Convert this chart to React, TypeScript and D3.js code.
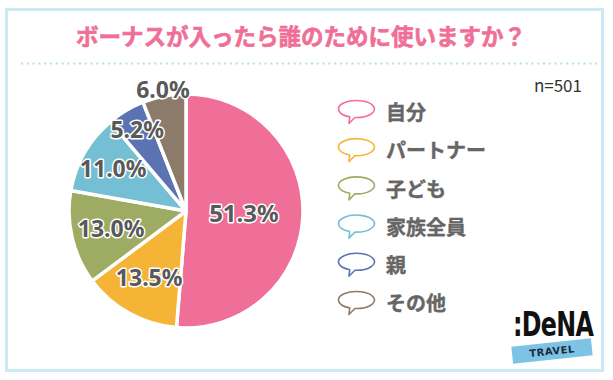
import React from "react";
import * as d3 from "d3";

const categories = ["自分", "パートナー", "子ども", "家族全員", "親", "その他"];
const values = [51.3, 13.5, 13.0, 11.0, 5.2, 6.0];
const colors = ["#f06f98", "#f6b437", "#9dac62", "#74bfd3", "#5b73b3", "#8c7b6b"];
const title = "ボーナスが入ったら誰のために使いますか？";
const sampleNote = "n=501";

const W = 613;
const H = 380;
const cx = 186;
const cy = 211;
const R = 117;
const labelRadius = [58, 76, 77, 84, 95, 123];

function bubblePath(rx: number, ry: number) {
  const a1 = (95 * Math.PI) / 180;
  const a2 = (112 * Math.PI) / 180;
  const x1 = rx * Math.cos(a1), y1 = ry * Math.sin(a1);
  const x2 = rx * Math.cos(a2), y2 = ry * Math.sin(a2);
  return `M${x1},${y1} A${rx},${ry} 0 1 0 ${x2},${y2} L${-rx * 0.42},${ry + 6} Z`;
}

export default function App() {
  const pie = d3.pie<number>().sort(null).value((d) => d);
  const arcs = pie(values);
  const arc = d3.arc<d3.PieArcDatum<number>>().innerRadius(0).outerRadius(R);
  const legendY = d3.scalePoint<string>().domain(categories).range([113, 304]);

  const dots: number[] = d3.range(22, 598, 5.8);

  return (
    <svg width={W} height={H} style={{ position: "absolute", left: 0, top: 0, background: "#fff" }}>
      <rect x={0} y={0} width={W} height={H} fill="#fff" />
      <rect x={6.5} y={9.5} width={596} height={361} fill="none" stroke="#cbeaf6" strokeWidth={3} />
      <text
        x={301}
        y={45}
        textAnchor="middle"
        fontFamily="'Noto Sans CJK JP', sans-serif"
        fontWeight={700}
        fontSize={22.5}
        fill="#ef6f97"
        stroke="#ef6f97"
        strokeWidth={0.6}
      >
        {title}
      </text>
      {dots.map((x, i) => (
        <circle key={i} cx={x} cy={63.5} r={1.3} fill="#c3e5f2" />
      ))}
      <text x={582} y={92} textAnchor="end" fontFamily="'Noto Sans CJK JP', sans-serif" fontSize={17} fill="#333">
        {sampleNote}
      </text>

      <g transform={`translate(${cx},${cy})`}>
        {arcs.map((a, i) => (
          <path key={i} d={arc(a) || ""} fill={colors[i]} stroke="#fff" strokeWidth={3.5} strokeLinejoin="round" />
        ))}
        {arcs.map((a, i) => {
          const c = d3.arc<d3.PieArcDatum<number>>().innerRadius(labelRadius[i]).outerRadius(labelRadius[i]).centroid(a);
          return (
            <text
              key={"l" + i}
              x={c[0]}
              y={c[1]}
              dy="0.36em"
              textAnchor="middle"
              fontFamily="'Noto Sans', sans-serif"
              fontWeight={700}
              fontSize={i === 0 ? 24 : 23}
              fill="#595959"
              stroke="#fff"
              strokeWidth={3}
              paintOrder="stroke"
              strokeLinejoin="round"
            >
              {values[i].toFixed(1)}%
            </text>
          );
        })}
      </g>

      {categories.map((c, i) => {
        const y = legendY(c) as number;
        return (
          <g key={c}>
            <path
              transform={`translate(356.5,${y - 4})`}
              d={bubblePath(18, 8.5)}
              fill="#fff"
              stroke={colors[i]}
              strokeWidth={1.6}
              strokeLinejoin="round"
            />
            <text
              x={386}
              y={y}
              dy="0.36em"
              fontFamily="'Noto Sans CJK JP', sans-serif"
              fontWeight={700}
              fontSize={20}
              fill="#666"
              stroke="#666"
              strokeWidth={0.4}
            >
              {c}
            </text>
          </g>
        );
      })}

      <g>
        <g transform="translate(513,336) scale(0.7,1)">
          <text
            x={0}
            y={0}
            fontFamily="'DejaVu Sans', sans-serif"
            fontWeight={700}
            fontSize={34}
            fill="#111"
            letterSpacing={-1}
          >
            :DeNA
          </text>
        </g>
        <g transform="translate(552,351) rotate(-6)">
          <rect x={-40} y={-8.5} width={80} height={17} fill="#7cc3e6" />
          <text
            x={0}
            y={0}
            dy="0.36em"
            textAnchor="middle"
            fontFamily="'DejaVu Sans', sans-serif"
            fontWeight={700}
            fontSize={10}
            fill="#1c2a3a"
            letterSpacing={0.5}
          >
            TRAVEL
          </text>
        </g>
      </g>
    </svg>
  );
}
